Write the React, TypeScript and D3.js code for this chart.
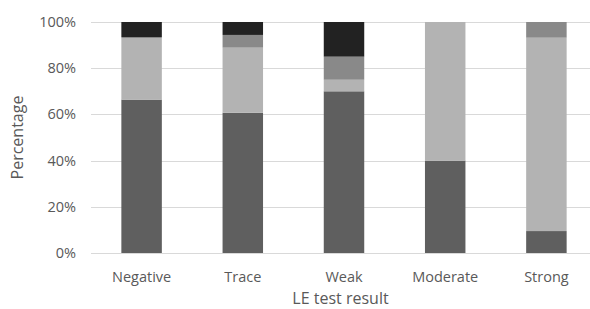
import * as d3 from "d3";

const categories = ["Negative", "Trace", "Weak", "Moderate", "Strong"];
const seriesNames = ["s1", "s2", "s3", "s4"];
const s1 = [66.4, 60.7, 70, 40, 9.5];
const s2 = [26.5, 28.2, 5, 60, 83.7];
const s3 = [0.6, 5.5, 10, 0, 6.8];
const s4 = [6.5, 5.6, 15, 0, 0];
const yTicks = [0, 20, 40, 60, 80, 100];
const colors = ["#5f5f5f", "#b3b3b3", "#898989", "#222222"];

const width = 590;
const height = 309;
const marginTop = 22;
const marginBottom = 56;
const marginLeft = 91;
const plotRight = 597;

export default function App() {
    const rows = categories.map((c, i) => ({
        cat: c,
        s1: s1[i],
        s2: s2[i],
        s3: s3[i],
        s4: s4[i],
    }));
    const stack = d3.stack<any>().keys(seriesNames)(rows);

    const x = d3
        .scaleBand<string>()
        .domain(categories)
        .range([marginLeft, plotRight])
        .paddingInner(0.6)
        .paddingOuter(0.3);
    const y = d3
        .scaleLinear()
        .domain([0, 100])
        .range([height - marginBottom, marginTop]);

    const font = "'Open Sans', 'Noto Sans', sans-serif";

    return (
        <div style={{ position: "absolute", left: 0, top: 0 }}>
            <svg width={width} height={height} style={{ display: "block" }}>
                <rect width={width} height={height} fill="white" />
                <g stroke="#d9d9d9" strokeWidth={1}>
                    {yTicks.map((t) => (
                        <line
                            key={t}
                            x1={marginLeft}
                            x2={plotRight}
                            y1={Math.round(y(t)) + 0.5}
                            y2={Math.round(y(t)) + 0.5}
                        />
                    ))}
                </g>
                {stack.map((layer, li) => (
                    <g key={layer.key} fill={colors[li]}>
                        {layer.map((d, i) =>
                            d[1] - d[0] > 0 ? (
                                <rect
                                    key={i}
                                    x={x(categories[i])}
                                    width={x.bandwidth()}
                                    y={y(d[1])}
                                    height={y(d[0]) - y(d[1])}
                                />
                            ) : null
                        )}
                    </g>
                ))}
                <g
                    fontFamily={font}
                    fontSize={14.5}
                    fill="#595959"
                    textAnchor="end"
                >
                    {yTicks.map((t) => (
                        <text key={t} x={76} y={y(t)} dy="0.35em">
                            {t}%
                        </text>
                    ))}
                </g>
                <g
                    fontFamily={font}
                    fontSize={14.5}
                    fill="#595959"
                    textAnchor="middle"
                >
                    {categories.map((c) => (
                        <text
                            key={c}
                            x={(x(c) ?? 0) + x.bandwidth() / 2}
                            y={282}
                        >
                            {c}
                        </text>
                    ))}
                </g>
                <text
                    x={(marginLeft + 590) / 2}
                    y={304}
                    textAnchor="middle"
                    fontFamily={font}
                    fontSize={16}
                    fill="#595959"
                >
                    LE test result
                </text>
                <text
                    transform={`translate(23,${(y(0) + y(100)) / 2}) rotate(-90)`}
                    textAnchor="middle"
                    fontFamily={font}
                    fontSize={16}
                    fill="#595959"
                >
                    Percentage
                </text>
            </svg>
        </div>
    );
}
